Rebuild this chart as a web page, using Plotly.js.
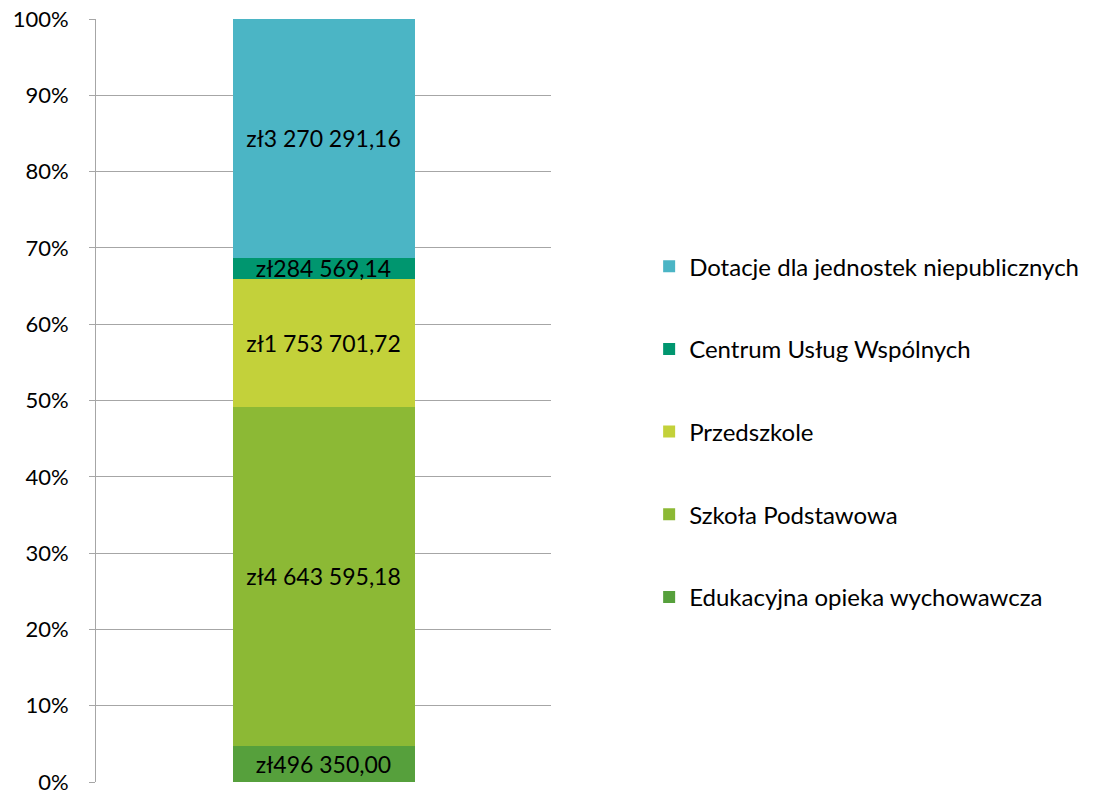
<!DOCTYPE html>
<html><head><meta charset="utf-8">
<script src="https://cdn.plot.ly/plotly-3.0.1.min.js"></script>
<style>html,body{margin:0;padding:0;background:#fff}</style>
</head><body>
<div id="chart" style="width:1096px;height:794px"></div>
<script>
const category = ['Wydatki'];
const seriesNames = ['Edukacyjna opieka wychowawcza','Szkoła Podstawowa','Przedszkole','Centrum Usług Wspólnych','Dotacje dla jednostek niepublicznych'];
const seriesValues = [496350.00, 4643595.18, 1753701.72, 284569.14, 3270291.16];
const seriesColors = ['#56A03C','#8CB935','#C3D13A','#00966F','#4BB5C5'];
const yTicks = [0,10,20,30,40,50,60,70,80,90,100];

function fmt(v){
  const parts = v.toFixed(2).split('.');
  const intp = parts[0].replace(/\B(?=(\d{3})+(?!\d))/g, ' ');
  return 'zł' + intp + ',' + parts[1];
}
const FONT = 'Lato, "Open Sans", sans-serif';
const traces = seriesNames.map((n,i)=>({
  type:'bar', name:n, x:category, y:[seriesValues[i]],
  marker:{color:seriesColors[i], line:{width:0}},
  width:0.4,
  text:[fmt(seriesValues[i])], textposition:'inside', insidetextanchor:'middle',
  constraintext:'none', textangle:0,
  textfont:{family:FONT, size:23, color:'#000'},
  legendgroup:'g'+i, legendrank:seriesNames.length - i,
  hoverinfo:'name+y'
}));
const layout = {
  width:1096, height:794,
  margin:{l:96, r:541, t:19, b:12},
  barmode:'stack', barnorm:'percent',
  paper_bgcolor:'#fff', plot_bgcolor:'#fff',
  font:{family:FONT, size:22, color:'#000'},
  xaxis:{showticklabels:false, showgrid:false, zeroline:false, showline:false, range:[-0.5,0.5]},
  yaxis:{range:[0,100], tickvals:yTicks, ticktext:yTicks.map(t=>t+'%'),
    showgrid:true, gridcolor:'#A6A6A6', gridwidth:1, zeroline:false,
    showline:true, linecolor:'#A6A6A6', linewidth:1,
    ticks:'outside', ticklen:6, tickcolor:'#A6A6A6',
    ticklabeloverflow:'allow', ticklabelstandoff:16,
    tickfont:{family:FONT, size:22, color:'#000'}},
  showlegend:true,
  legend:{x:1.2157, xanchor:'left', y:0.705, yanchor:'top', traceorder:'grouped',
    tracegroupgap:48.5, font:{family:FONT, size:24, color:'#000'},
    itemwidth:30, bgcolor:'rgba(0,0,0,0)'}
};
Plotly.newPlot('chart', traces, layout, {displayModeBar:false, staticPlot:true});
</script>
</body></html>
